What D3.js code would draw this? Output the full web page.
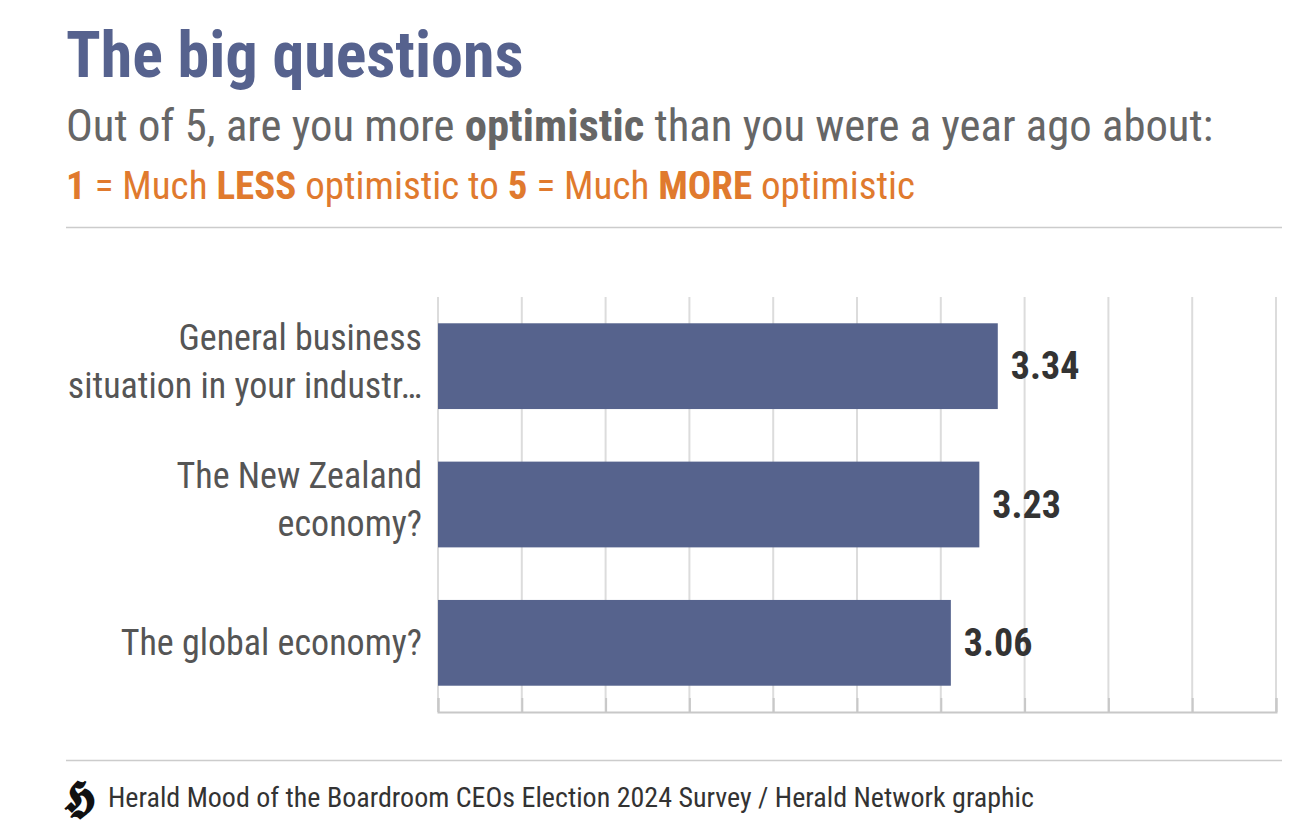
<!DOCTYPE html>
<html><head><meta charset="utf-8">
<script src="https://cdn.jsdelivr.net/npm/d3@7"></script>
<style>
html,body{margin:0;padding:0;background:#fff;}
svg text{font-family:"Roboto Condensed","Roboto",sans-serif;}
</style></head>
<body>
<svg id="c" width="1314" height="838"></svg>
<script>
const categories = [
  ["General business", "situation in your industr…"],
  ["The New Zealand", "economy?"],
  ["The global economy?"]
];
const values = [3.34, 3.23, 3.06];
const tickValues = [0,0.5,1,1.5,2,2.5,3,3.5,4,4.5,5];
const titleText = "The big questions";
const subtitleParts = [["Out of 5, are you more ",400],["optimistic",700],[" than you were a year ago about:",400]];
const scaleParts = [["1",700],[" = Much ",400],["LESS",700],[" optimistic to ",400],["5",700],[" = Much ",400],["MORE",700],[" optimistic",400]];
const sourceText = "Herald Mood of the Boardroom CEOs Election 2024 Survey / Herald Network graphic";

const svg = d3.select("#c");

function ctext(x, y, anchor, size, weight, color, parts){
  const t = svg.append("text").attr("x", x).attr("y", y).attr("text-anchor", anchor).attr("font-size", size).attr("fill", color);
  if (typeof parts === "string") { t.attr("font-weight", weight).text(parts); }
  else parts.forEach(p => t.append("tspan").attr("font-weight", p[1]).text(p[0]));
  return t;
}

// Header
ctext(66, 77, "start", 64, 700, "#56628e", titleText);
ctext(66, 141, "start", 44.7, 400, "#666666", subtitleParts);
ctext(66, 199, "start", 39, 400, "#e07a2e", scaleParts);
svg.append("line").attr("x1",66).attr("x2",1282).attr("y1",227.5).attr("y2",227.5).attr("stroke","#cccccc").attr("stroke-width",1.5);

// Chart
const x = d3.scaleLinear().domain([0,5]).range([438,1276]);
const y = d3.scaleBand().domain(d3.range(values.length)).range([297,712]).paddingInner(0.38).paddingOuter(0.19);

svg.append("g").selectAll("line").data(tickValues).join("line")
  .attr("x1", d=>x(d)).attr("x2", d=>x(d)).attr("y1",297).attr("y2",712)
  .attr("stroke","#dcdcdc").attr("stroke-width",2);
const ax = svg.append("g").attr("transform","translate(0,712)")
  .call(d3.axisBottom(x).tickValues(tickValues).tickSize(-14).tickFormat(""));
ax.select(".domain").attr("stroke","#c8c8c8").attr("stroke-width",2);
ax.selectAll(".tick line").attr("stroke","#c8c8c8").attr("stroke-width",2);

svg.append("g").selectAll("rect").data(values).join("rect")
  .attr("x", x(0)).attr("y", (d,i)=>y(i)).attr("width", d=>x(d)-x(0)).attr("height", y.bandwidth())
  .attr("fill","#56638d");

values.forEach((v,i)=>{
  const cy = y(i)+y.bandwidth()/2;
  ctext(x(v)+13, cy+13, "start", 38, 700, "#333333", d3.format(".2f")(v));
  const lines = categories[i];
  const lh = 48;
  const off = lines.length > 1 ? 7.5 : 12.5;
  lines.forEach((ln,j)=>{
    const by = cy - (lines.length-1)*lh/2 + j*lh + off;
    ctext(422, by, "end", 36, 400, "#555555", ln);
  });
});

// Footer
svg.append("line").attr("x1",66).attr("x2",1282).attr("y1",760.5).attr("y2",760.5).attr("stroke","#cccccc").attr("stroke-width",1.5);
svg.append("text").attr("x",64).attr("y",812).attr("font-family","'DejaVu Serif',serif").attr("font-size",44).attr("font-weight",700).attr("fill","#111").text("𝕳");
ctext(108, 807, "start", 28, 400, "#333333", sourceText);
</script>
</body></html>
